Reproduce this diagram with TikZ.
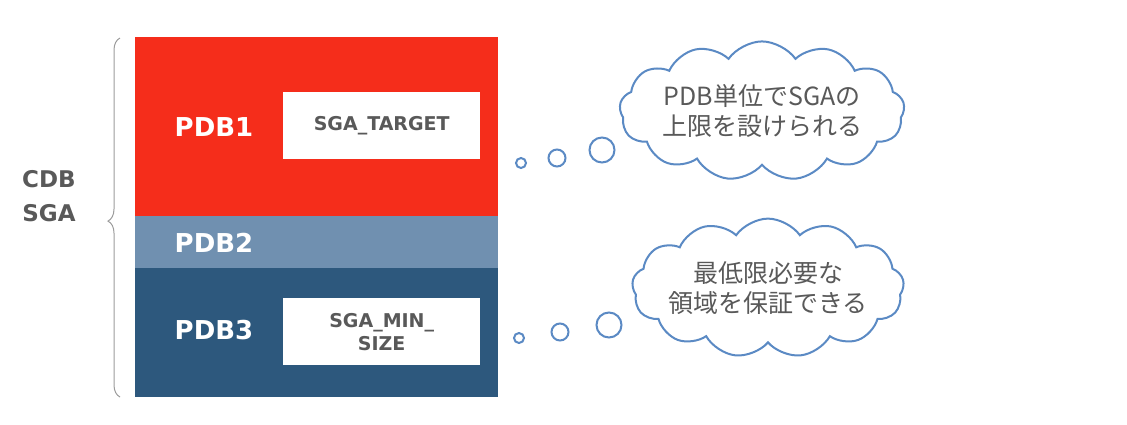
\documentclass[tikz,border=0pt]{standalone}
\usepackage{fontspec}
\setmainfont{DejaVu Sans}
\newfontfamily\cjk{Noto Sans CJK JP}
\usetikzlibrary{shapes.symbols,decorations.pathreplacing}
\definecolor{cred}{HTML}{F52D1B}
\definecolor{cmid}{HTML}{7090B0}
\definecolor{cdark}{HTML}{2D587D}
\definecolor{cblue}{HTML}{5B8AC4}
\definecolor{cgray}{HTML}{595959}
\tikzset{
 band/.style={draw=none,minimum width=363pt,anchor=north west,inner sep=0},
 lbl/.style={text=white,font=\bfseries\fontsize{26}{30}\selectfont},
 wbox/.style={fill=white,minimum width=197pt,minimum height=67pt,anchor=north west,inner sep=0,text=cgray,font=\bfseries\fontsize{19}{23}\selectfont,align=center},
 thought/.style={cloud,cloud puffs=13,cloud puff arc=110,aspect=2.3,draw=cblue,line width=2pt,fill=white,align=center,font=\cjk\fontsize{25}{30}\selectfont,text=cgray,inner xsep=-10pt,inner ysep=-9pt},
 bub/.style={circle,draw=cblue,line width=2pt,fill=white,inner sep=0}
}
\begin{document}
\begin{tikzpicture}[x=1pt,y=-1pt]
\useasboundingbox (0,0) rectangle (1127,424);
\node[band,fill=cred,minimum height=179pt] (p1) at (135,37) {};
\node[band,fill=cmid,minimum height=52pt] (p2) at (135,216) {};
\node[band,fill=cdark,minimum height=129pt] (p3) at (135,268) {};
\node[lbl] (l1) at (214,127) {PDB1};
\node[lbl] (l2) at (214,243) {PDB2};
\node[lbl] (l3) at (214,330) {PDB3};
\node[wbox] (w1) at (283,92) {SGA\_TARGET};
\node[wbox] (w2) at (283,298) {SGA\_MIN\_\\SIZE};
\draw[cgray!60,line width=1pt,decorate,decoration={brace,amplitude=12pt,aspect=0.49}] (120,397) -- (120,38);
\node[text=cgray,font=\bfseries\fontsize{23}{34}\selectfont,align=center] (cdb) at (49,196) {CDB\\SGA};
\node[thought,minimum width=285pt,minimum height=133pt] (c1) at (762,111) {PDB単位でSGAの\\上限を設けられる};
\node[thought,minimum width=272pt,minimum height=127pt] (c2) at (768,288) {最低限必要な\\領域を保証できる};
\node[bub,minimum size=10pt] (a1) at (521,163) {};
\node[bub,minimum size=17pt] (a2) at (557,158) {};
\node[bub,minimum size=25pt] (a3) at (602,150) {};
\node[bub,minimum size=10pt] (b1) at (519,338) {};
\node[bub,minimum size=17pt] (b2) at (560,332) {};
\node[bub,minimum size=25pt] (b3) at (609,325) {};
\end{tikzpicture}
\end{document}
